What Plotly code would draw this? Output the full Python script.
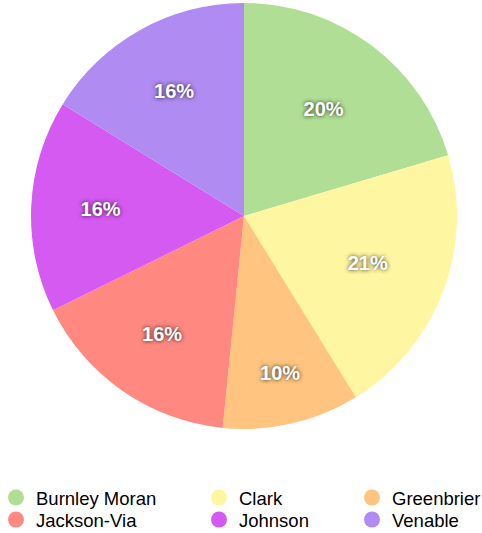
import plotly.graph_objects as go

schools = ['Burnley Moran', 'Clark', 'Greenbrier', 'Jackson-Via', 'Johnson', 'Venable']
shares = [20.4, 20.8, 10.4, 16.1, 16.1, 16.2]
colors = ['rgb(177,222,149)', 'rgb(255,246,162)', 'rgb(255,197,128)',
          'rgb(255,137,128)', 'rgb(213,90,242)', 'rgb(176,139,242)']

W, H = 482, 533
cx, cy, R = 244, 216, 213

fig = go.Figure()
fig.add_trace(go.Pie(
    labels=schools, values=shares, sort=False, direction='clockwise', rotation=0,
    marker=dict(colors=colors, line=dict(width=0)),
    texttemplate='%{percent:.0%}', textposition='inside', insidetextorientation='horizontal',
    textfont=dict(family='Liberation Sans', size=20, color='white', weight='bold',
                  shadow='0px 0px 4px rgba(0,0,0,0.8)'),
    hoverinfo='label+percent', showlegend=False,
    domain=dict(x=[(cx - R) / W, (cx + R) / W], y=[1 - (cy + R) / H, 1 - (cy - R) / H]),
))

# one small legend per entry so the grid matches the reference
col_left = [-4, 199, 352]
row_top = [479, 501]
layout_legends = {}
for i, (name, c) in enumerate(zip(schools, colors)):
    key = 'legend' if i == 0 else 'legend%d' % (i + 1)
    fig.add_trace(go.Scatter(
        x=[None], y=[None], mode='markers', name=name,
        marker=dict(symbol='circle', size=16, color=c),
        legend=key, showlegend=True, hoverinfo='skip',
    ))
    layout_legends[key] = dict(
        x=col_left[i % 3] / W, y=1 - row_top[i // 3] / H,
        xanchor='left', yanchor='top', orientation='v',
        font=dict(family='Liberation Sans', size=18.5, color='black'),
        bgcolor='rgba(0,0,0,0)', itemclick=False,
    )

fig.update_layout(
    width=W, height=H, margin=dict(l=0, r=0, t=0, b=0, autoexpand=False),
    paper_bgcolor='white', plot_bgcolor='white',
    xaxis=dict(visible=False), yaxis=dict(visible=False),
    **layout_legends,
)

fig.write_html('out.html', config={'displayModeBar': False},
               post_script="document.body.style.margin='0px';")
